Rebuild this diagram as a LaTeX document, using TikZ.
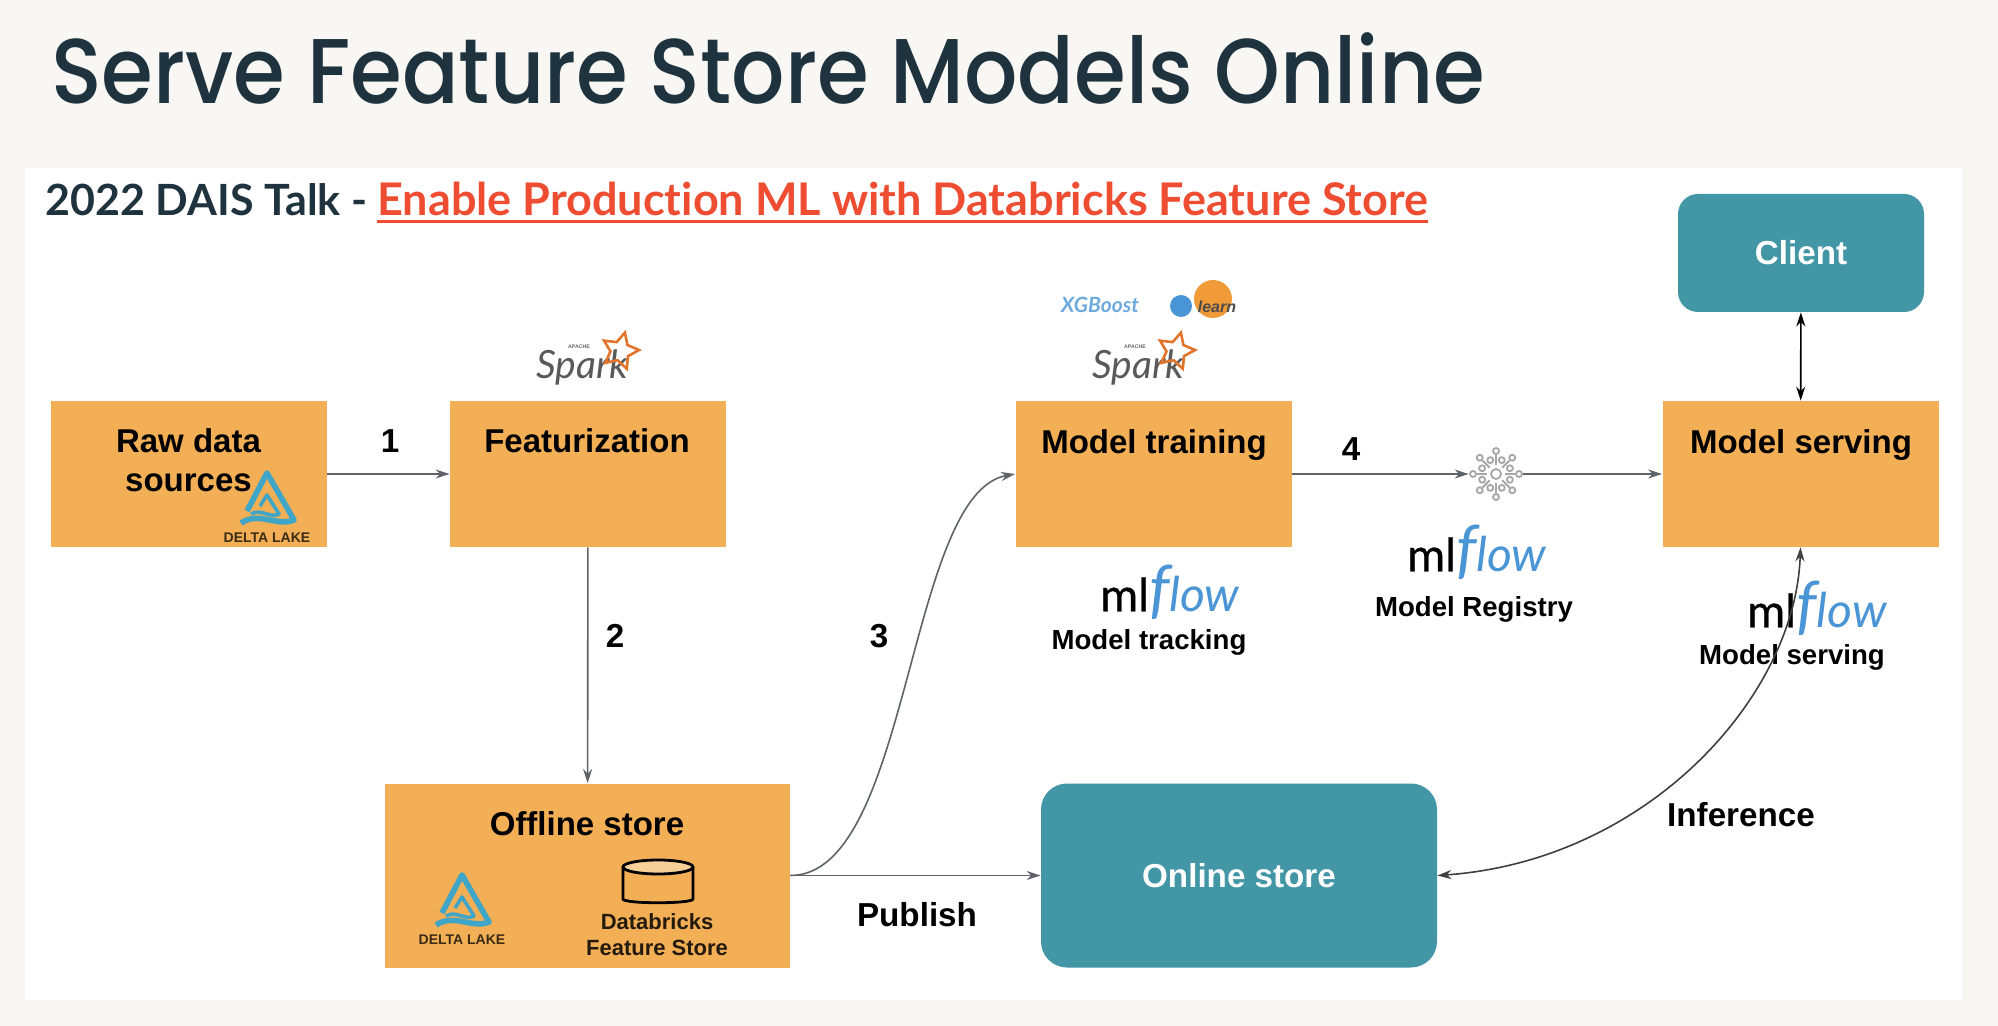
\documentclass[tikz,border=0pt]{standalone}
\usepackage{fontspec}
\setmainfont{Liberation Sans}
\newfontfamily\titlefont[FakeStretch=.91]{Poppins Medium}
\newfontfamily\talkfont[Ligatures=NoCommon]{Lato}
\newfontfamily\logofont{Lato}
\newfontfamily\mlfont[FakeBold=.6]{Lato}
\usetikzlibrary{positioning,arrows.meta,shapes.geometric}
\definecolor{pagebg}{HTML}{F8F7F3}
\definecolor{navy}{HTML}{1F333E}
\definecolor{linkred}{HTML}{EE4D32}
\definecolor{boxorange}{HTML}{F2AF55}
\definecolor{boxteal}{HTML}{4296A6}
\definecolor{linegray}{HTML}{5F6368}
\definecolor{deltablue}{HTML}{3FA6C8}
\definecolor{flowblue}{HTML}{4A95D6}
\definecolor{sparkorange}{HTML}{E2752C}
\definecolor{learnorange}{HTML}{F09A38}
\newcommand{\mlflowlogo}{{\mlfont\fontsize{23}{23}\selectfont ml{\logofont\color{flowblue}\itshape{\fontsize{32}{32}\selectfont f}{\fontsize{24}{24}\selectfont low}}}}
\newcommand{\fsize}[1]{\fontsize{#1}{#1}\selectfont}
\tikzset{
  orangebox/.style={fill=boxorange,inner sep=0pt,minimum width=138pt,minimum height=73pt},
  tealbox/.style={fill=boxteal,rounded corners=13pt,inner sep=0pt,text=white,font=\bfseries\fsize{16.6}},
  boxlabel/.style={font=\bfseries\fsize{16.5},text=black,inner sep=0pt,align=center},
  smalllabel/.style={font=\bfseries\fsize{13.8},text=black,inner sep=0pt,align=center},
  steplabel/.style={font=\bfseries\fsize{16.6},text=black,inner sep=0pt},
  flow/.style={draw=linegray,line width=.8pt,-{Stealth[length=7pt,width=4.5pt]}},
  twoway/.style={line width=.8pt,{Stealth[length=7pt,width=4.5pt]}-{Stealth[length=7pt,width=4.5pt]}},
  deltalake/.pic={
    \draw[deltablue,line width=2.8pt,line join=round] (-20,38) -- (0,0) -- (27,47) .. controls (10,54) and (-8,38) .. (-26,50);
    \draw[deltablue,line width=1.8pt,line join=round] (-16,41) .. controls (-6,35) and (4,46) .. (12,41) -- (0,22) -- (-7,33);
    \node[inner sep=0pt,font=\bfseries\fsize{7},text=black!75!boxorange] (-name) at (0,65) {DELTA LAKE};
  },
  sparklogo/.pic={
    \node[inner sep=0pt,font=\logofont\itshape\fsize{19.5},text=black!65] (-word) at (-5,8) {Spark};
    \node[inner sep=0pt,font=\bfseries\fsize{2.6},text=black!60] (-apache) at (-8,-12) {APACHE};
    \node[star,star points=5,star point ratio=2,minimum size=19pt,inner sep=0pt,draw=sparkorange,line width=1.3pt,rotate=-15] (-star) at (33,-8) {};
  }
}
\begin{document}
\begin{tikzpicture}[x=.5pt,y=-.5pt]
  \useasboundingbox (0,0) rectangle (1998,1026);
  \fill[pagebg] (0,0) rectangle (1998,1026);
  \fill[white] (25,168) rectangle (1962,1000);
  % heading
  \node[anchor=base west,inner sep=0pt,font=\titlefont\fsize{46},text=navy] (title) at (51,104) {Serve Feature Store Models Online};
  \node[anchor=base west,inner sep=0pt,font=\talkfont\bfseries\fsize{21.5},text=navy] (talk) at (45,216) {2022 DAIS Talk -};
  \node[anchor=base west,inner sep=0pt,font=\talkfont\bfseries\fsize{22.5},text=linkred] (link) at (377,216) {Enable Production ML with Databricks Feature Store};
  \draw[linkred,line width=1.6pt] ([yshift=-2.6pt]link.base west) -- ([yshift=-2.6pt]link.base east);
  % boxes
  \node[orangebox] (raw) at (188.5,474) {};
  \node[orangebox] (feat) at (588,474) {};
  \node[orangebox] (train) at (1153.5,474) {};
  \node[orangebox] (serve) at (1800.5,474) {};
  \node[orangebox,minimum width=202.5pt,minimum height=92pt] (offline) at (587.5,875.5) {};
  \node[tealbox,minimum width=198pt,minimum height=92pt] (online) at (1239,875.5) {Online store};
  \node[tealbox,rounded corners=10pt,minimum width=123pt,minimum height=59pt] (client) at (1801,253) {Client};
  % box labels
  \node[boxlabel,below=14pt of raw.north] (rawtxt) {Raw data\\[3pt]sources};
  \node[boxlabel] (feattxt) at (587,441) {Featurization};
  \node[boxlabel] (traintxt) at (1154,445) {Model training};
  \node[boxlabel] (servetxt) at (1801,445) {Model serving};
  \node[boxlabel] (offtxt) at (587,824) {Offline store};
  \node[font=\bfseries\fsize{11},inner sep=0pt,align=center,text=black!85!boxorange] (dbfs) at (657,935) {Databricks\\[2pt]Feature Store};
  % logos
  \pic (rawdelta) at (267,473) {deltalake};
  \pic (offdelta) at (462,875) {deltalake};
  \pic (featspark) at (587,359) {sparklogo};
  \pic (trainspark) at (1143,359) {sparklogo};
  \draw[black,line width=1.4pt,fill=boxorange!60!white] (658,867) ellipse (35 and 7);
  \draw[black,line width=1.4pt] (623,867) -- (623,899) .. controls (623,904) and (693,904) .. (693,899) -- (693,867);
  \node[inner sep=0pt,font=\logofont\bfseries\itshape\fsize{10.5},text=flowblue!80!white] (xgb) at (1100,305) {XGBoost};
  \fill[learnorange] (1213,299) circle (19);
  \fill[flowblue] (1181,306) circle (11);
  \node[inner sep=0pt,font=\itshape\bfseries\fsize{8},text=black!70] (learn) at (1217,307) {learn};
  \node[inner sep=0pt] (trainml) at (1170,592) {\mlflowlogo};
  \node[inner sep=0pt] (regml) at (1477,552) {\mlflowlogo};
  \node[inner sep=0pt] (serveml) at (1817,608) {\mlflowlogo};
  % registry icon
  \node[circle,inner sep=0pt,minimum size=27pt] (reg) at (1496,474) {};
  \foreach \ang in {0,45,...,315} {
    \draw[black!35,line width=.9pt] (reg) ++(\ang:9) -- ++(\ang:10);
    \draw[black!35,line width=.9pt] (reg) ++(\ang:23) circle (3);
    \draw[black!35,line width=.9pt] (reg) ++(\ang+22.5:15) circle (3);
  }
  \draw[black!35,line width=.9pt] (reg) circle (5);
  % captions
  \node[smalllabel] (tracktxt) at (1149,642) {Model tracking};
  \node[smalllabel] (regtxt) at (1474,609) {Model Registry};
  \node[smalllabel] (servesm) at (1792,657) {Model serving};
  % connectors
  \draw[flow] (raw) -- (feat);
  \draw[flow] (feat) -- (offline);
  \draw[flow] (offline.east) to[out=0,in=190,out distance=60pt,in distance=55pt] (train.west);
  \draw[flow] (offline) -- (online);
  \draw[flow] (train) -- (reg);
  \draw[flow] (reg) -- (serve);
  \draw[twoway,black] (client) -- (serve);
  \draw[twoway,black!75] (serve.south) to[out=-92,in=4,out distance=75pt,in distance=105pt] (online.east);
  % step labels
  \node[steplabel] (one) at (390,441) {1};
  \node[steplabel] (two) at (615,636) {2};
  \node[steplabel] (three) at (879,636) {3};
  \node[steplabel] (four) at (1351,449) {4};
  \node[steplabel] (publish) at (917,915) {Publish};
  \node[steplabel] (infer) at (1741,815) {Inference};
\end{tikzpicture}
\end{document}
